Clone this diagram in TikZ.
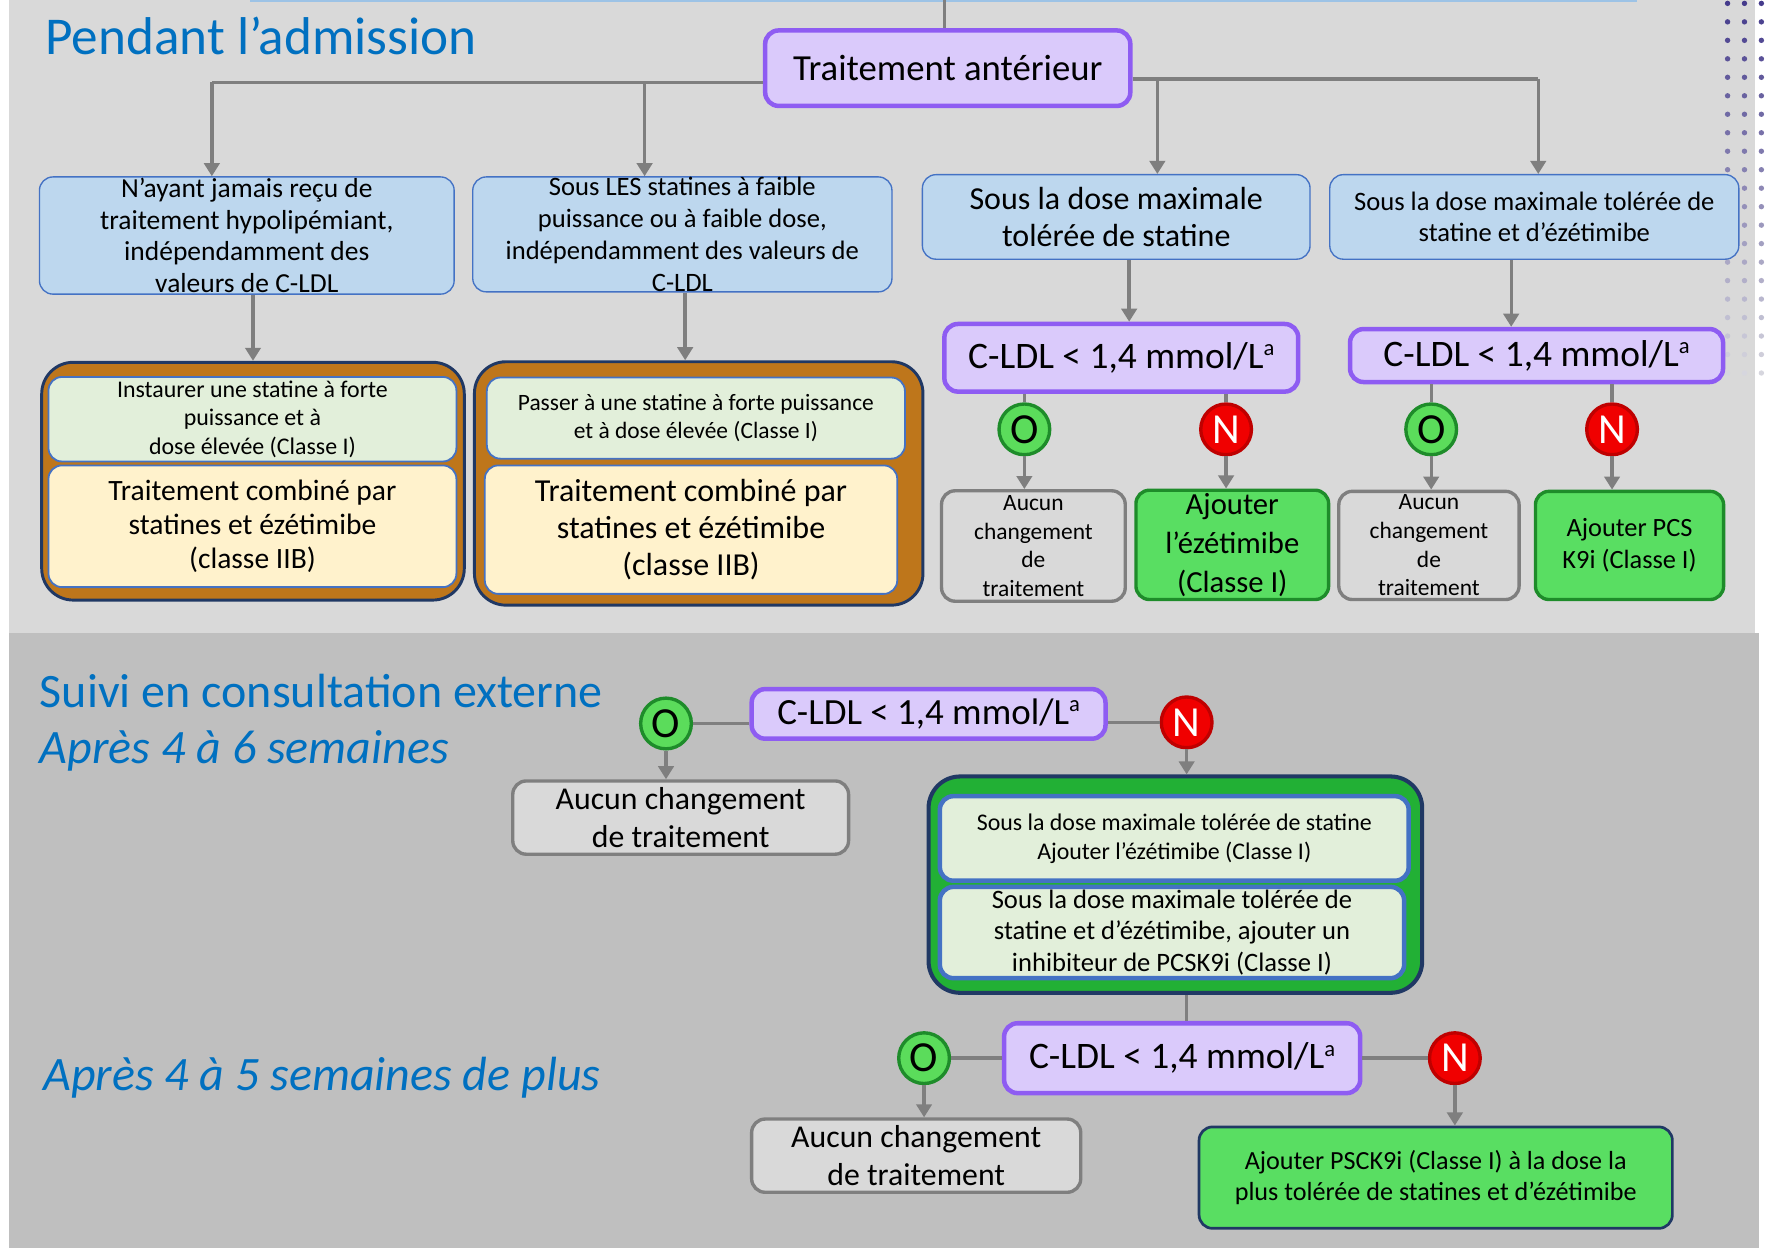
\documentclass[tikz,border=0pt]{standalone}
\usepackage{fontspec}
\setmainfont{Carlito}
\usepackage{tikz}
\usetikzlibrary{arrows.meta,calc,positioning}

\definecolor{paneltop}{HTML}{D9D9D9}
\definecolor{panelbot}{HTML}{BFBFBF}
\definecolor{titleblue}{HTML}{0070C0}
\definecolor{topblue}{HTML}{9DC3E6}
\definecolor{lavfill}{HTML}{DACAFB}
\definecolor{lavline}{HTML}{8E5CF2}
\definecolor{catfill}{HTML}{BDD7EE}
\definecolor{catline}{HTML}{4472C4}
\definecolor{orangegrp}{HTML}{BE761B}
\definecolor{navyline}{HTML}{203864}
\definecolor{palegreen}{HTML}{E2EFDA}
\definecolor{paleyellow}{HTML}{FFF2CC}
\definecolor{yesfill}{HTML}{5BDC5B}
\definecolor{yesline}{HTML}{1E8C2A}
\definecolor{nofill}{HTML}{F00000}
\definecolor{noline}{HTML}{BF0000}
\definecolor{addfill}{HTML}{59DE62}
\definecolor{greengrp}{HTML}{22B035}
\definecolor{linkgray}{HTML}{7F7F7F}
\definecolor{dotdark}{HTML}{453B8C}
\definecolor{dotlight}{HTML}{D6D6DE}

\newcommand{\setfs}[2]{\fontsize{#1}{#2}\selectfont}
\newcommand{\cldl}{C-LDL < 1,4 mmol/L\raisebox{5.6pt}{\setfs{10}{10}a}}

\tikzset{
	flow box/.style={rectangle,rounded corners=6pt,align=center,inner sep=0pt},
	prior box/.style={flow box,draw=lavline,fill=lavfill,line width=2pt},
	cat box/.style={flow box,draw=catline,fill=catfill,line width=0.6pt},
	group box/.style={flow box,rounded corners=14pt,draw=navyline,line width=1.3pt},
	step green/.style={flow box,draw=catline,fill=palegreen,line width=0.8pt},
	step yellow/.style={flow box,draw=catline,fill=paleyellow,line width=0.8pt},
	keep box/.style={flow box,draw=linkgray,fill=paneltop,line width=1.5pt},
	add box/.style={flow box,draw=yesline,fill=addfill,line width=1.5pt},
	answer/.style={circle,minimum size=22.5pt,inner sep=0pt,line width=1.5pt,font=\setfs{19}{19}},
	oui/.style={answer,draw=yesline,fill=yesfill},
	non/.style={answer,draw=noline,fill=nofill,text=white},
	link/.style={color=linkgray,line width=1.5pt},
	heading/.style={anchor=base west,inner sep=0pt,text=titleblue},
}

\begin{document}
\begin{tikzpicture}[x=0.5pt,y=-0.5pt,>={Triangle[length=5.8pt,width=6.8pt]}]
	% fonds
	\useasboundingbox (0,0) rectangle (1568,1107);
	\fill[paneltop] (7.6,0) rectangle (1557,562);
	\fill[panelbot] (7.6,562) rectangle (1561,1107);
	\draw[topblue,line width=1pt] (222,1) -- (1453,1);
	\foreach \row in {0,...,20}{
		\pgfmathtruncatemacro{\pct}{max(0,100-5*\row)}
		\foreach \col in {1533,1548,1563}
			\fill[dotdark!\pct!dotlight] (\col,3+16.4*\row) circle (1.2pt);
	}

	% Pendant l'admission
	\node[heading,font=\setfs{23.6}{28}] (titre1) at (40,48) {Pendant l’admission};
	\node[prior box,minimum width=162pt,minimum height=33.5pt,font=\setfs{16.3}{19}] (trait) at (841,60.5) {Traitement antérieur};

	\node[cat box,minimum width=184pt,minimum height=52pt,font=\setfs{12.2}{14}] (cat1) at (219,209) {N’ayant jamais reçu de\\traitement hypolipémiant,\\indépendamment des\\valeurs de C-LDL};
	\node[cat box,minimum width=186pt,minimum height=51pt,font=\setfs{11.8}{14.2}] (cat2) at (605.5,208) {Sous LES statines à faible\\puissance ou à faible dose,\\indépendamment des valeurs de\\C-LDL};
	\node[cat box,minimum width=172pt,minimum height=37.5pt,font=\setfs{14.2}{16.5}] (cat3) at (990.5,192.5) {Sous la dose maximale\\tolérée de statine};
	\node[cat box,minimum width=181.5pt,minimum height=37.5pt,font=\setfs{11.8}{14}] (cat4) at (1361.5,192.5) {Sous la dose maximale tolérée de\\statine et d’ézétimibe};

	\node[group box,fill=orangegrp,minimum width=187.5pt,minimum height=105.5pt] (orange1) at (224.5,427) {};
	\node[step green,minimum width=181pt,minimum height=37.5pt,font=\setfs{10.6}{12.6}] (vert1) at (224,372) {Instaurer une statine à forte\\puissance et à\\dose élevée (Classe I)};
	\node[step yellow,minimum width=181pt,minimum height=54pt,font=\setfs{13.1}{15.2}] (jaune1) at (224,467) {Traitement combiné par\\statines et ézétimibe\\(classe IIB)};

	\node[group box,fill=orangegrp,minimum width=199pt,minimum height=108pt] (orange2) at (620,429) {};
	\node[step green,minimum width=185.5pt,minimum height=36pt,font=\setfs{10.4}{12.5}] (vert2) at (617.5,371) {Passer à une statine à forte puissance\\et à dose élevée (Classe I)};
	\node[step yellow,minimum width=183pt,minimum height=57pt,font=\setfs{14.2}{16.5}] (jaune2) at (613.2,470) {Traitement combiné par\\statines et ézétimibe\\(classe IIB)};

	\node[prior box,minimum width=157pt,minimum height=30pt,font=\setfs{16.6}{19}] (cldlA) at (995,317.5) {\cldl};
	\node[prior box,minimum width=165.5pt,minimum height=23.5pt,font=\setfs{16.6}{19}] (cldlB) at (1363.5,315.5) {\cldl};

	\node[oui] (ouiA) at (909,381) {O};
	\node[non] (nonA) at (1088,381) {N};
	\node[oui] (ouiB) at (1270,381) {O};
	\node[non] (nonB) at (1430.5,381) {N};

	\node[keep box,minimum width=81.5pt,minimum height=49pt,font=\setfs{10.4}{12.75}] (gardeA) at (917,484.5) {Aucun\\changement\\de\\traitement};
	\node[add box,minimum width=85.5pt,minimum height=48.5pt,font=\setfs{13.6}{17.2}] (ajoutA) at (1093.5,483.5) {Ajouter\\l’ézétimibe\\(Classe I)};
	\node[keep box,minimum width=80pt,minimum height=48pt,font=\setfs{10.4}{12.75}] (gardeB) at (1268,484) {Aucun\\changement\\de\\traitement};
	\node[add box,minimum width=83.5pt,minimum height=48pt,font=\setfs{11.7}{14}] (ajoutB) at (1446,484) {Ajouter PCS\\K9i (Classe I)};

	% Suivi en consultation externe
	\node[heading,font=\setfs{21.3}{25}] (titre2) at (35,628) {Suivi en consultation externe};
	\node[heading,font=\setfs{21.3}{25}\itshape] (titre3) at (35,677.5) {Après 4 à 6 semaines};
	\node[heading,font=\setfs{21.3}{25}\itshape] (titre4) at (38,968) {Après 4 à 5 semaines de plus};

	\node[prior box,minimum width=157pt,minimum height=22pt,font=\setfs{16.4}{19}] (cldlC) at (824,633.5) {\cldl};
	\node[oui] (ouiC) at (591,642) {O};
	\node[non] (nonC) at (1053,641) {N};
	\node[keep box,minimum width=149pt,minimum height=32.5pt,font=\setfs{14.1}{17}] (gardeC) at (604,725.5) {Aucun changement\\de traitement};

	\node[group box,fill=greengrp,line width=1.8pt,minimum width=219pt,minimum height=96pt] (vertgrp) at (1043,785) {};
	\node[step green,line width=2pt,minimum width=208pt,minimum height=37.5pt,font=\setfs{10.6}{13}] (etape1) at (1042,744) {Sous la dose maximale tolérée de statine\\Ajouter l’ézétimibe (Classe I)};
	\node[step green,line width=2pt,minimum width=206pt,minimum height=40.5pt,font=\setfs{11.8}{14}] (etape2) at (1040,827.5) {Sous la dose maximale tolérée de\\statine et d’ézétimibe, ajouter un\\inhibiteur de PCSK9i (Classe I)};

	\node[prior box,minimum width=158pt,minimum height=31pt,font=\setfs{16.6}{19}] (cldlD) at (1049,939) {\cldl};
	\node[oui] (ouiD) at (820,939) {O};
	\node[non] (nonD) at (1291,939) {N};
	\node[keep box,minimum width=146pt,minimum height=32.5pt,font=\setfs{14.1}{17}] (gardeD) at (813,1025.5) {Aucun changement\\de traitement};
	\node[add box,draw=navyline,line width=1.2pt,minimum width=210pt,minimum height=45pt,font=\setfs{11.6}{14}] (ajoutD) at (1274,1045) {Ajouter PSCK9i (Classe I) à la dose la\\plus tolérée de statines et d’ézétimibe};

	% connecteurs
	\coordinate (haut) at (838,0);
	\coordinate (g1) at (188,73);
	\coordinate (g2) at (572,73);
	\coordinate (d1) at (1027,70);
	\coordinate (d2) at (1365,70);
	\coordinate (f3) at (1002,0);
	\coordinate (f4) at (1341,0);
	\draw[link] (haut |- trait.north) -- (haut);
	\draw[link] (trait.west |- g1) -- (g1);
	\draw[link] (trait.east |- d1) -- (d2);
	\draw[link] (ouiA |- cldlA.south) -- (ouiA);
	\draw[link] (nonA |- cldlA.south) -- (nonA);
	\draw[link] (ouiB |- cldlB.south) -- (ouiB);
	\draw[link] (nonB |- cldlB.south) -- (nonB);
	\draw[link] (ouiC) -- (cldlC.west |- ouiC);
	\draw[link] (cldlC.east |- nonC) -- (nonC);
	\draw[link] (nonC |- vertgrp.south) -- (nonC |- cldlD.north);
	\draw[link] (ouiD) -- (cldlD.west |- ouiD);
	\draw[link] (cldlD.east |- nonD) -- (nonD);
	\path[link,->]
	(g1) edge (g1 |- cat1.north)
	(g2) edge (g2 |- cat2.north)
	(d1) edge (d1 |- cat3.north)
	(d2) edge (d2 |- cat4.north)
	(orange1.north |- cat1.south) edge (orange1.north)
	(cat2.south -| 608,0) edge (orange2.north -| 608,0)
	(f3 |- cat3.south) edge (f3 |- cldlA.north)
	(f4 |- cat4.south) edge (f4 |- cldlB.north)
	(ouiA) edge (ouiA |- gardeA.north)
	(nonA) edge (nonA |- ajoutA.north)
	(ouiB) edge (ouiB |- gardeB.north)
	(nonB) edge (nonB |- ajoutB.north)
	(ouiC) edge (ouiC |- gardeC.north)
	(nonC) edge (nonC |- vertgrp.north)
	(ouiD) edge (ouiD |- gardeD.north)
	(nonD) edge (nonD |- ajoutD.north)
	;
\end{tikzpicture}
\end{document}
